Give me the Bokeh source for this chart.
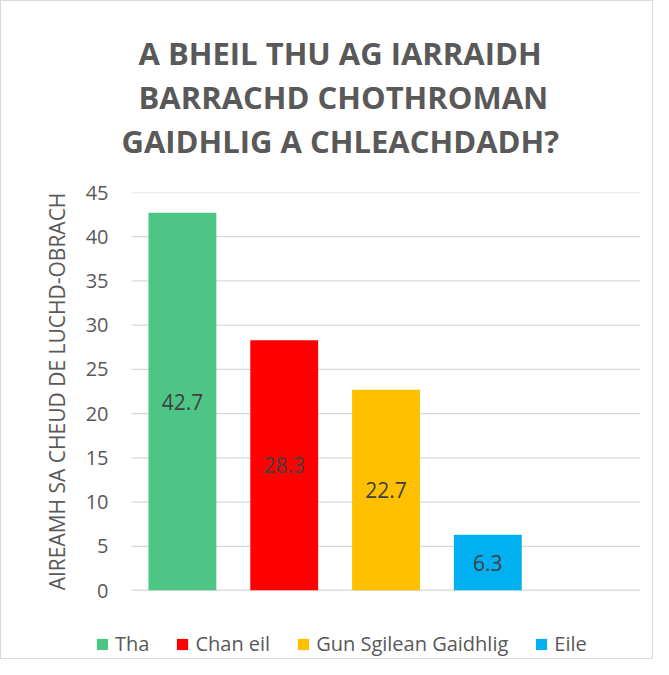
from bokeh.plotting import figure
from bokeh.layouts import column
from bokeh.models import (ColumnDataSource, Range1d, Title, LabelSet,
                          FixedTicker, Legend, LegendItem)
from bokeh.core.properties import value
from bokeh.embed import file_html
from bokeh.resources import INLINE

title_lines = ["A BHEIL THU AG IARRAIDH", "BARRACHD CHOTHROMAN", "GAIDHLIG A CHLEACHDADH?"]
y_label = "AIREAMH SA CHEUD DE LUCHD-OBRACH"
categories = ["Tha", "Chan eil", "Gun Sgilean Gaidhlig", "Eile"]
values = [42.7, 28.3, 22.7, 6.3]
value_labels = ["42.7", "28.3", "22.7", "6.3"]
colors = ["#4DC685", "#FF0000", "#FFC000", "#00B0F0"]
y_ticks = [0, 5, 10, 15, 20, 25, 30, 35, 40, 45]
n_slots = len(categories) + 1          # the chart keeps one empty category slot at the right

FONT = "Open Sans"
GREY = "#595959"
BORDER = "1px solid #d9d9d9"
LEFT_PAD = 0.354                       # empty space left of the first slot (in slot widths)

slot_pos = [i + 0.5 for i in range(len(categories))]
src = ColumnDataSource(dict(
    x=slot_pos,
    cat=categories,
    val=values,
    mid=[v / 2 for v in values],
    lab=value_labels,
    color=colors,
))
grid_src = ColumnDataSource(dict(
    x0=[0] * (len(y_ticks) - 1), x1=[n_slots] * (len(y_ticks) - 1), y=y_ticks[1:],
))
base_src = ColumnDataSource(dict(x0=[0], x1=[n_slots], y=y_ticks[:1]))

x_range = Range1d(-LEFT_PAD, n_slots)

p = figure(
    x_range=x_range,
    y_range=Range1d(y_ticks[0], y_ticks[-1]),
    width=653, height=615,
    output_backend="svg", toolbar_location=None,
    min_border_left=94, min_border_right=14,
    min_border_top=191, min_border_bottom=26,
    background_fill_color="white", border_fill_color="white",
)
p.styles = {"border-top": BORDER, "border-left": BORDER, "border-right": BORDER,
            "box-sizing": "border-box"}
p.outline_line_color = None

# spacer between title block and plot area, then the three title lines
p.add_layout(Title(text=" ", text_font_size="1px", standoff=28), "above")
title_offsets = [26, 43, 43]  # left offsets for lines 3, 2, 1 (centred over the chart)
for line, off in zip(reversed(title_lines), title_offsets):
    p.add_layout(Title(text=line, align="left", offset=off, text_font=FONT,
                       text_font_size="31px", text_font_style="bold",
                       text_color=GREY, standoff=0), "above")

# horizontal gridlines and baseline over the category slots only
p.segment(x0="x0", x1="x1", y0="y", y1="y", source=grid_src,
          line_color="#d9d9d9", line_width=1.3)
p.segment(x0="x0", x1="x1", y0="y", y1="y", source=base_src,
          line_color="#bfbfbf", line_width=1.6)

p.vbar(x="x", top="val", width=2/3, color="color", line_color=None, source=src)

p.add_layout(LabelSet(x="x", y="mid", text="lab", source=src, text_align="center",
                      text_baseline="middle", text_font=value(FONT), text_font_size="21px",
                      text_color="#404040"))

# y axis
p.yaxis.ticker = FixedTicker(ticks=y_ticks)
p.yaxis.axis_line_color = None
p.yaxis.major_tick_line_color = None
p.yaxis.minor_tick_line_color = None
p.yaxis.major_tick_in = 0
p.yaxis.major_tick_out = 0
p.yaxis.major_label_standoff = -13
p.yaxis.major_label_text_font = FONT
p.yaxis.major_label_text_font_size = "20px"
p.yaxis.major_label_text_color = GREY
p.yaxis.axis_label = y_label
p.yaxis.axis_label_text_font = FONT
p.yaxis.axis_label_text_font_size = "21px"
p.yaxis.axis_label_text_font_style = "normal"
p.yaxis.axis_label_text_color = GREY
p.yaxis.axis_label_standoff = 12

p.xaxis.visible = False
p.xgrid.visible = False
p.ygrid.visible = False

# legend strip beneath the plot (its bars sit out of view, only the legend shows)
lp = figure(
    x_range=x_range, y_range=Range1d(100, 101),
    width=653, height=44,
    output_backend="svg", toolbar_location=None,
    min_border_left=0, min_border_right=0, min_border_top=0, min_border_bottom=0,
    background_fill_color="white", border_fill_color="white",
)
lp.styles = {"border-left": BORDER, "border-right": BORDER, "border-bottom": BORDER,
             "box-sizing": "border-box"}
lp.outline_line_color = None
lp.xaxis.visible = False
lp.yaxis.visible = False
lp.xgrid.visible = False
lp.ygrid.visible = False
r2 = lp.vbar(x="x", top="val", width=2/3, color="color", line_color=None, source=src)

leg = Legend(items=[LegendItem(label=c, renderers=[r2], index=i)
                    for i, c in enumerate(categories)])
leg.orientation = "horizontal"
leg.location = (0, 2)
leg.padding = 0
leg.margin = 0
leg.spacing = 26
leg.label_standoff = 6
leg.glyph_width = 14
leg.glyph_height = 14
leg.label_text_font = FONT
leg.label_text_font_size = "20px"
leg.label_text_color = GREY
leg.border_line_color = None
leg.background_fill_alpha = 0
lp.add_layout(leg)

open("out.html", "w").write(file_html(column(p, lp, spacing=0), INLINE))
